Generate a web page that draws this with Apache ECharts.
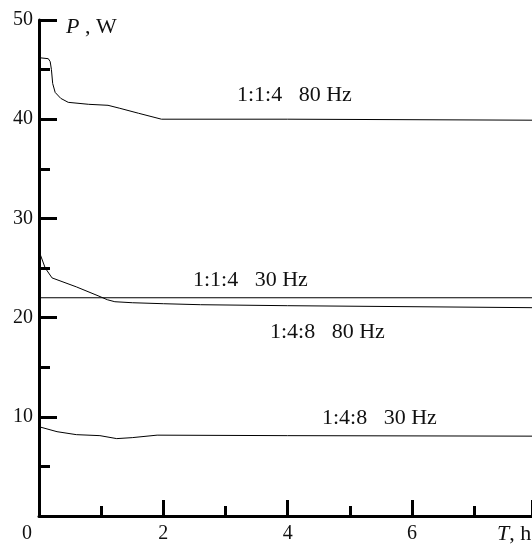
<!DOCTYPE html>
<html><head><meta charset="utf-8">
<script src="https://cdn.jsdelivr.net/npm/echarts@6/dist/echarts.min.js"></script>
<style>html,body{margin:0;padding:0;background:#fff}#c{width:532px;height:544px}</style>
</head><body><div id="c"></div>
<script>
var s114_80 = [[0,46.2],[0.15,46.1],[0.18,45.8],[0.2,45],[0.22,43.6],[0.26,42.7],[0.35,42.1],[0.47,41.7],[0.8,41.5],[1.11,41.4],[1.3,41.1],[1.6,40.6],[1.97,40],[4,40],[6,39.95],[7.93,39.9]];
var s114_30 = [[0,22],[7.93,22]];
var s148_80 = [[0,26.7],[0.1,25],[0.21,24],[0.6,23.1],[0.95,22.2],[1.1,21.8],[1.22,21.6],[1.5,21.5],[2,21.4],[2.6,21.3],[4,21.2],[6,21.1],[7.93,21.0]];
var s148_30 = [[0,9],[0.29,8.5],[0.6,8.2],[0.98,8.1],[1.25,7.8],[1.5,7.9],[1.9,8.15],[4,8.1],[7.93,8.05]];
var seriesNames = ['1:1:4   80 Hz','1:1:4   30 Hz','1:4:8   80 Hz','1:4:8   30 Hz'];
var xTicks = [0,2,4,6];
var yTicks = [0,10,20,30,40,50];

var F = 'Liberation Serif, Times New Roman, serif';
var chart = echarts.init(document.getElementById('c'));
function ser(d){return {type:'line',data:d,symbol:'none',smooth:false,lineStyle:{color:'#000',width:1},silent:true};}
function lab(t,x,y){return {type:'text',left:x,top:y,style:{text:t,font:'22px '+F,fill:'#111'}};}
chart.setOption({
  animation:false,
  grid:{left:39,top:20,right:0,bottom:26},
  xAxis:{type:'value',min:0,max:7.93,interval:2,
    axisLine:{lineStyle:{color:'#000',width:3}},
    axisTick:{inside:true,length:16,lineStyle:{color:'#000',width:3}},
    minorTick:{show:true,splitNumber:2,length:10,lineStyle:{color:'#000',width:3}},
    splitLine:{show:false},
    axisLabel:{color:'#111',fontSize:20,fontFamily:F,margin:8,showMaxLabel:false,
      formatter:function(v){return (v>0 && xTicks.indexOf(v)>=0)?String(v):'';}}},
  yAxis:{type:'value',min:0,max:50,interval:10,
    axisLine:{lineStyle:{color:'#000',width:3}},
    axisTick:{inside:true,length:18,lineStyle:{color:'#000',width:3}},
    minorTick:{show:true,splitNumber:2,length:11,lineStyle:{color:'#000',width:3}},
    splitLine:{show:false},
    axisLabel:{color:'#111',fontSize:20,fontFamily:F,margin:6,
      formatter:function(v){return (v>0 && yTicks.indexOf(v)>=0)?String(v):'';}}},
  series:[ser(s114_80),ser(s114_30),ser(s148_80),ser(s148_30)],
  graphic:[
    lab(seriesNames[0],237,84),
    lab(seriesNames[1],193,269),
    lab(seriesNames[2],270,321),
    lab(seriesNames[3],322,407),
    {type:'text',left:66,top:16,style:{text:'{i|P} , W',font:'22px '+F,fill:'#111',
      rich:{i:{fontStyle:'italic',fontSize:22,fontFamily:F,fill:'#111'}}}},
    {type:'text',left:497,top:523,style:{text:'{i|T}, h',font:'22px '+F,fill:'#111',
      rich:{i:{fontStyle:'italic',fontSize:22,fontFamily:F,fill:'#111'}}}},
    {type:'text',left:22,top:524,style:{text:'0',font:'20px '+F,fill:'#111'}}
  ]
});
</script></body></html>
